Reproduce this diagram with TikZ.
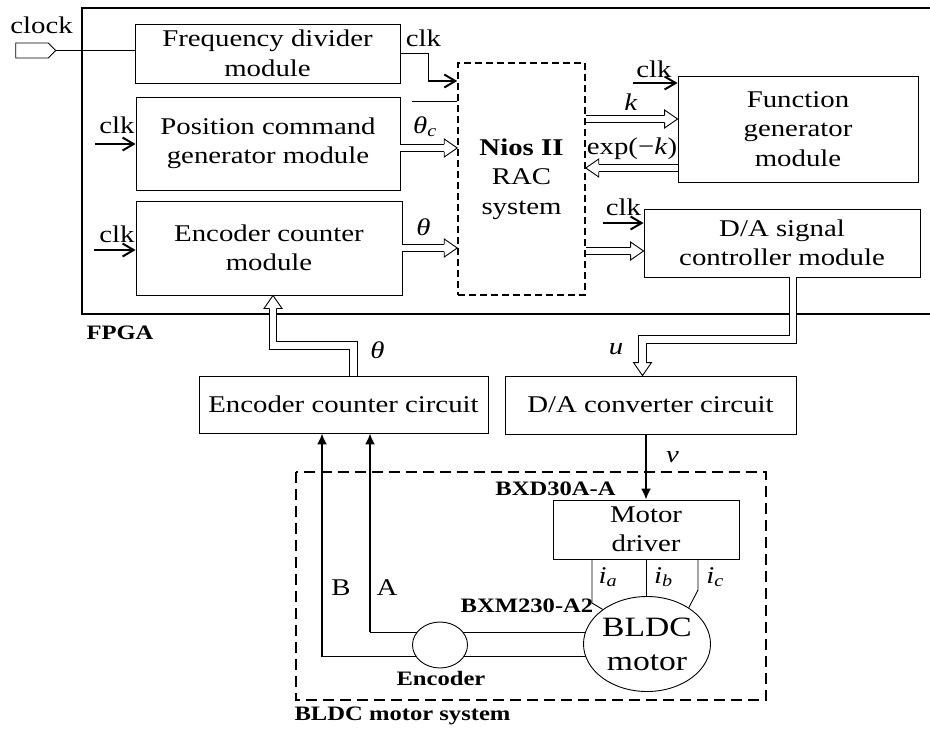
\documentclass[tikz,border=0pt]{standalone}
\usepackage{fontspec}
\setmainfont{Liberation Serif}[FakeStretch=1.2]
\usepackage{tikz}
\usetikzlibrary{arrows.meta,calc,shapes.geometric,shapes.symbols,backgrounds}

\newcommand{\isub}[2]{\textit{#1}\textsubscript{\textit{#2}}}
\newcommand{\hhead}[2]{%
 \coordinate (hb) at ($(#2)!13pt!(#1)$);
 \draw[line width=0.9pt,fill=white] ($(hb)!3.7pt!90:(#1)$) -- ($(hb)!9pt!90:(#1)$) -- (#2) -- ($(hb)!9pt!-90:(#1)$) -- ($(hb)!3.7pt!-90:(#1)$);}
\newcommand{\hollowarr}[2]{%
 \draw[hol] (#1) -- ($(#2)!13pt!(#1)$);
 \hhead{#1}{#2}}

\begin{document}
\begin{tikzpicture}[x=1pt,y=-1pt,
 every node/.style={font=\fontsize{24}{29.5}\selectfont,align=center,inner sep=0pt},
 box/.style={rectangle,draw,line width=0.9pt},
 lbl/.style={anchor=base},
 tag/.style={anchor=base,font=\fontsize{20.5}{24}\selectfont\bfseries},
 hol/.style={draw,line width=0.9pt,double=white,double distance=6.5pt},
 clkarr/.style={line width=2pt,-{Straight Barb[length=11pt,width=13pt]}},
 sigarr/.style={line width=1.8pt,-{Latex[length=11pt,width=10pt]}}]
\useasboundingbox (0,0) rectangle (930,729);
\draw[line width=1.3pt] (931,8) -| (82,314) -- (931,314);
\node[box,minimum width=265pt,minimum height=59pt] (fd) at (267.5,53.5) {Frequency divider\\module};
\node[box,minimum width=264pt,minimum height=93pt] (pc) at (268,143.5) {Position command\\generator module};
\node[box,minimum width=266pt,minimum height=94pt] (ecm) at (269,248) {Encoder counter\\module};
\node[box,dashed,dash pattern=on 7pt off 4pt,line width=1.5pt,minimum width=127pt,minimum height=232pt] (nios) at (521.5,179) {\textbf{Nios II}\\RAC\\system};
\node[box,minimum width=240pt,minimum height=106pt] (fg) at (798,129) {Function\\generator\\module};
\node[box,minimum width=276pt,minimum height=68pt] (dasc) at (782,243) {D/A signal\\controller module};
\node[box,minimum width=289pt,minimum height=57pt] (ecc) at (343.5,404.5) {Encoder counter circuit};
\node[box,minimum width=291pt,minimum height=58pt] (dac) at (650.5,405) {D/A converter circuit};
\node[box,minimum width=186pt,minimum height=59pt] (md) at (646,529.5) {Motor\\driver};
\node[draw,ellipse,fill=white,line width=0.9pt,minimum width=127pt,minimum height=95pt,font=\fontsize{28}{34}\selectfont] (motor) at (647,644) {BLDC\\motor};
\node[draw,ellipse,fill=white,line width=0.9pt,minimum width=55pt,minimum height=46pt] (enc) at (440,645) {};
\node[draw,signal,signal to=east,line width=0.9pt,minimum width=40pt,minimum height=15pt] (clock) at (32,50.5) {};
\draw[line width=1.8pt,dash pattern=on 11pt off 6pt] (296,472) rectangle (766,700);

\node[lbl] (clocklbl) at (41.5,33) {clock};
\node[lbl] (fdclk) at (423.5,46) {clk};
\node[lbl] (pcclk) at (117,133) {clk};
\node[lbl] (ecmclk) at (117,242) {clk};
\node[lbl] (fgclk) at (654,77) {clk};
\node[lbl] (daclk) at (623.5,215) {clk};
\node[lbl] (thclbl) at (425,133) {\isub{θ}{c}};
\node[lbl] (thlbl) at (423.5,235) {\textit{θ}};
\node[lbl] (klbl) at (631,110) {\textit{k}};
\node[lbl] (explbl) at (632,154) {exp(−\textit{k})};
\node[lbl] (ulbl) at (616,354) {\textit{u}};
\node[lbl] (thelbl) at (377.5,358) {\textit{θ}};
\node[lbl] (vlbl) at (672.5,462) {\textit{v}};
\node[lbl] (ialbl) at (608,583) {\isub{i}{a}};
\node[lbl] (iblbl) at (663.5,583) {\isub{i}{b}};
\node[lbl] (iclbl) at (715,583) {\isub{i}{c}};
\node[lbl] (blbl) at (341,595) {B};
\node[lbl] (albl) at (387,595) {A};
\node[tag] (fpgalbl) at (120,339) {FPGA};
\node[tag] (syslbl) at (402.5,720) {BLDC motor system};
\node[tag] (drvlbl) at (555.5,495) {BXD30A-A};
\node[tag] (motlbl) at (527,612) {BXM230-A2};
\node[tag] (enclbl) at (441,685) {Encoder};

\draw[line width=0.9pt] (clock.east) -- (clock.east -| fd.west);
\coordinate (fdk) at ($(fd.east)+(28,0)$);
\coordinate (fdk2) at ($(fdk)+(0,27.5)$);
\draw[line width=0.9pt] (fd.east) -- (fdk) -- (fdk2);
\draw[clkarr] (fdk2) -- (nios.west |- fdk2);
\coordinate (stray) at (412,101);
\draw[line width=0.9pt] (stray) -- (nios.west |- stray);
\coordinate (pck) at (95,144);
\draw[clkarr] (pck) -- (pck -| pc.west);
\coordinate (ecmk) at (94,250);
\draw[clkarr] (ecmk) -- (ecmk -| ecm.west);
\coordinate (fgk) at (633,83);
\draw[clkarr] (fgk) -- (fgk -| fg.west);
\coordinate (dak) at (603,223);
\draw[clkarr] (dak) -- (dak -| dasc.west);

\coordinate (thcS) at ([yshift=-4.5pt]pc.east);
\coordinate (thcE) at (nios.west |- thcS);
\hollowarr{thcS}{thcE}
\coordinate (thS) at (ecm.east);
\coordinate (thE) at (nios.west |- thS);
\hollowarr{thS}{thE}
\coordinate (kE) at ([yshift=10pt]fg.west);
\coordinate (kS) at (nios.east |- kE);
\hollowarr{kS}{kE}
\coordinate (eS) at ([yshift=-39pt]fg.west);
\coordinate (eE) at (nios.east |- eS);
\hollowarr{eS}{eE}
\coordinate (dE) at ([yshift=-8pt]dasc.west);
\coordinate (dS) at (nios.east |- dE);
\hollowarr{dS}{dE}

\coordinate (uS) at ([xshift=11pt]dasc.south);
\coordinate (uE) at ([xshift=-8pt]dac.north);
\coordinate (uK) at ($(uE)+(0,-36)$);
\draw[hol] (uS) |- (uK) -- ($(uE)!13pt!(uK)$);
\hhead{uK}{uE}
\coordinate (tS) at ([xshift=10pt]ecc.north);
\coordinate (tE) at ([xshift=4pt]ecm.south);
\coordinate (tK) at ($(tE)+(0,50)$);
\draw[hol] (tS) |- (tK) -- ($(tE)!13pt!(tK)$);
\hhead{tK}{tE}

\draw[sigarr] (md.north |- dac.south) -- (md.north);
\coordinate (wA) at (370,632);
\coordinate (wB) at (322,656.5);
\begin{pgfonlayer}{background}
\draw[line width=0.9pt] (wA) -- (motor.center |- wA);
\draw[line width=0.9pt] (wB) -- (motor.center |- wB);
\end{pgfonlayer}
\draw[sigarr] (wA) -- (ecc.south -| wA);
\draw[sigarr] (wB) -- (ecc.south -| wB);
\coordinate (ia) at (592,603);
\coordinate (ic) at (698,590);
\draw[line width=0.9pt] (md.south -| ia) -- (ia) -- (motor.142);
\draw[line width=0.9pt] (md.south) -- (md.south |- motor.north);
\draw[line width=0.9pt] (md.south -| ic) -- (ic) -- (motor.41);
\end{tikzpicture}
\end{document}
